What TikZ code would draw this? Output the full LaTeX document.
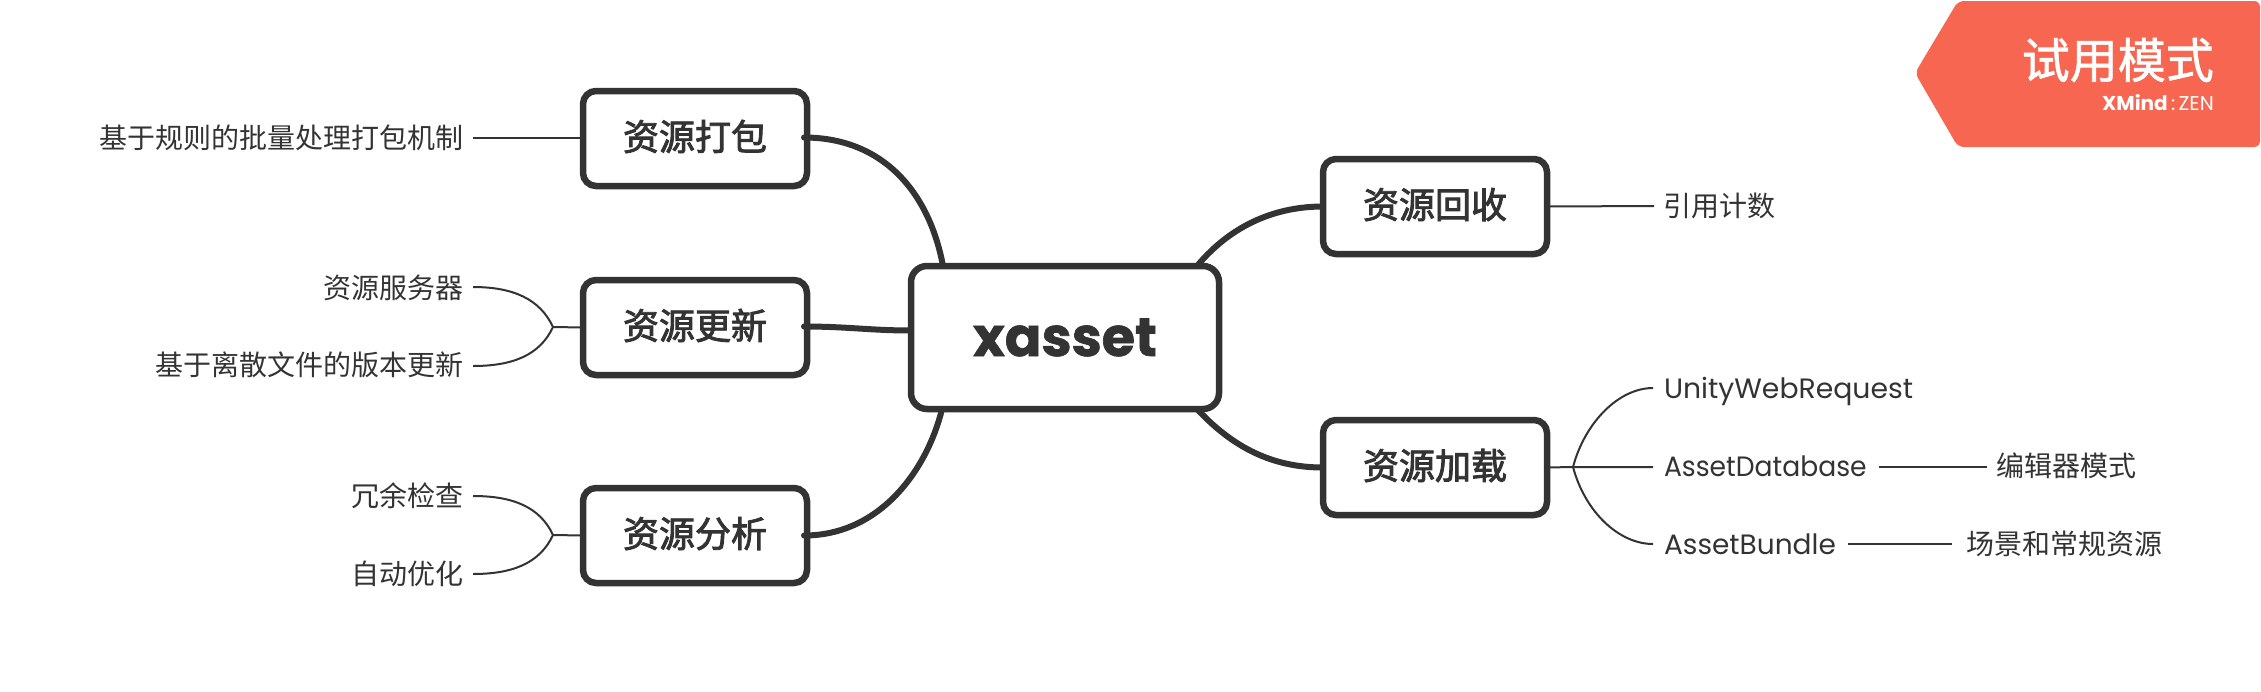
\documentclass[tikz,border=0pt]{standalone}
\usepackage{graphicx}
\usepackage{fontspec}
\setmainfont{Poppins}
\newfontfamily\cjk{Noto Sans CJK SC}
\newfontfamily\cjkm{Noto Sans CJK SC}[FakeBold=1.2]
\newfontfamily\cjkh{Noto Sans CJK SC}[FakeBold=2.4]
\newfontfamily\latb{Poppins}[BoldFont={Poppins Bold},BoldFeatures={FakeBold=1.2}]
\usetikzlibrary{calc}
\definecolor{ink}{HTML}{333333}
\definecolor{badge}{HTML}{F66651}
\tikzset{
  rootbox/.style={draw=ink,line width=6.5pt,rounded corners=16pt,fill=white,minimum width=308pt,minimum height=143pt,inner sep=0pt,outer sep=0pt,text=ink,font=\latb\fontsize{54}{54}\selectfont\bfseries},
  topicbox/.style={draw=ink,line width=6.5pt,rounded corners=13pt,fill=white,minimum width=224pt,minimum height=95pt,inner sep=0pt,outer sep=0pt,text=ink,text height=25pt,text depth=1.6pt,font=\cjkh\fontsize{36}{36}\selectfont},
  leafl/.style={inner sep=0pt,outer sep=0pt,anchor=east,text=ink,font=\cjk\fontsize{28}{28}\selectfont},
  leafr/.style={inner sep=0pt,outer sep=0pt,anchor=west,text=ink,font=\cjk\fontsize{28}{28}\selectfont},
  leafe/.style={inner sep=0pt,outer sep=0pt,anchor=west,text=ink,font=\fontsize{28}{28}\selectfont},
  mainline/.style={draw=ink,line width=6pt,line cap=round},
  thinline/.style={draw=ink,line width=2pt},
  x=1pt,y=-1pt
}
\begin{document}
\begin{tikzpicture}
\useasboundingbox (0,0) rectangle (2261,691);
% badge
\fill[badge,rounded corners=6pt] (1958,1) -- (2260,1) -- (2260,147) -- (1958,147) -- (1915,73) -- cycle;
\node[inner sep=0pt,anchor=east,text=white,font=\cjkm\fontsize{48}{48}\selectfont] (trial) at (2214,60) {试用模式};
\node[inner sep=0pt,anchor=east,text=white,font=\fontsize{20}{20}\selectfont] (brand) at (2214,103) {\textbf{XMind}\,:\,ZEN};
% boxes
\node[rootbox] (root) at (1065,337.5) {xasset};
\node[topicbox] (pack) at (695,138.5) {资源打包};
\node[topicbox] (upd) at (695,327.5) {资源更新};
\node[topicbox] (ana) at (695,535.5) {资源分析};
\node[topicbox] (rec) at (1435,206.5) {资源回收};
\node[topicbox] (load) at (1435,467.5) {资源加载};
% main connectors
\draw[mainline] ($(pack.east)+(-3,-1)$) .. controls +(78,0) and ($(root.north west)+(18,-75)$) .. ($(root.north west)+(32,0)$);
\draw[mainline] ($(upd.east)+(-3,-1)$) .. controls +(43,0) and ($(root.west)+(-40,-7)$) .. ($(root.west)+(0,-7)$);
\draw[mainline] ($(ana.east)+(-3,0)$) .. controls +(78,0) and ($(root.south west)+(17,58)$) .. ($(root.south west)+(31,0)$);
\draw[mainline] ($(root.north east)+(-22,0)$) .. controls +(36,-43) and ($(rec.west)+(-45,0)$) .. (rec.west);
\draw[mainline] ($(root.south east)+(-22,0)$) .. controls +(40,43) and ($(load.west)+(-45,0)$) .. (load.west);
% leaves left
\node[leafl] (l1) at (463,138) {基于规则的批量处理打包机制};
\node[leafl] (l2) at (463,288) {资源服务器};
\node[leafl] (l3) at (463,365) {基于离散文件的版本更新};
\node[leafl] (l4) at (463,496) {冗余检查};
\node[leafl] (l5) at (463,574) {自动优化};
\coordinate (j2) at (553,327);
\coordinate (j3) at (553,535);
\draw[thinline] ($(l1.east)+(10,0)$) -- ($(l1.east -| pack.west)$);
\draw[thinline] (upd.west) -- (j2);
\draw[thinline] ($(l2.east)+(10,-1)$) .. controls +(40,0) and ($(j2)+(-13,-28)$) .. (j2);
\draw[thinline] ($(l3.east)+(10,1)$) .. controls +(40,0) and ($(j2)+(-13,28)$) .. (j2);
\draw[thinline] (ana.west) -- (j3);
\draw[thinline] ($(l4.east)+(10,0)$) .. controls +(40,0) and ($(j3)+(-13,-28)$) .. (j3);
\draw[thinline] ($(l5.east)+(10,0)$) .. controls +(40,0) and ($(j3)+(-13,28)$) .. (j3);
% leaves right
\node[leafr] (r1) at (1663,206) {引用计数};
\node[leafe] (r2) at (1664,391) {\scalebox{1.01}[1]{UnityWebRequest}};
\coordinate (r2end) at (1653,388);
\node[leafe] (r3) at (1664,466) {\scalebox{0.95}[1]{AssetDatabase}};
\node[leafe] (r4) at (1664,544) {AssetBundle};
\node[leafr] (r5) at (1996,466) {编辑器模式};
\node[leafr] (r6) at (1966,544) {场景和常规资源};
\coordinate (j4) at (1573,467);
\draw[thinline] (rec.east) -- ($(r1.west)+(-9,0)$);
\draw[thinline] (load.east) -- (j4) -- ($(r3.west)+(-11,1)$);
\draw[thinline] (j4) .. controls +(12,-45) and ($(r2end)+(-34,0)$) .. (r2end);
\draw[thinline] (j4) .. controls +(12,45) and ($(r4.west)+(-45,0)$) .. ($(r4.west)+(-11,0)$);
\draw[thinline] ($(r3.east)+(12,1)$) -- ($(r5.west)+(-9,1)$);
\draw[thinline] ($(r4.east)+(12,0)$) -- ($(r6.west)+(-14,0)$);
\end{tikzpicture}
\end{document}
